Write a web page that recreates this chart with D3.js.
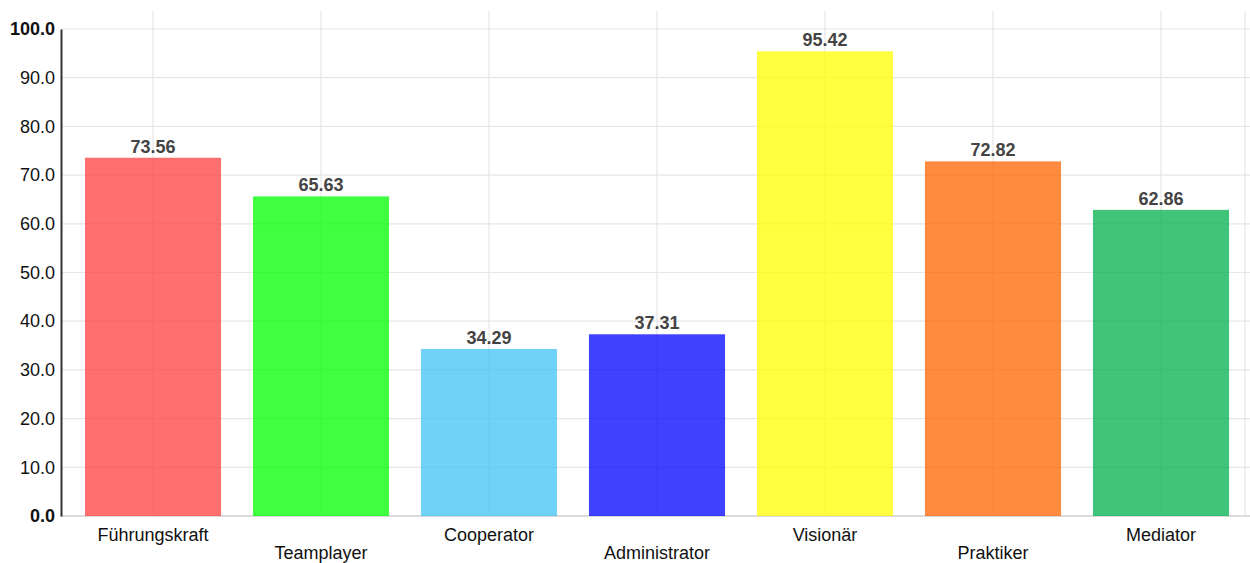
<!DOCTYPE html>
<html>
<head>
<meta charset="utf-8">
<script src="https://cdn.jsdelivr.net/npm/d3@7"></script>
<style>
  html, body { margin: 0; padding: 0; background: #fff; }
  svg { display: block; font-family: "Liberation Sans", Arial, sans-serif; }
</style>
</head>
<body>
<svg id="chart" width="1250" height="563"></svg>
<script>
const categories = ["Führungskraft", "Teamplayer", "Cooperator", "Administrator", "Visionär", "Praktiker", "Mediator"];
const values = [73.56, 65.63, 34.29, 37.31, 95.42, 72.82, 62.86];
const colors = ["#ff3f3f", "#00ff00", "#40c3f4", "#0000ff", "#ffff00", "#ff6300", "#00b04d"];
const yTicks = [0, 10, 20, 30, 40, 50, 60, 70, 80, 90, 100];

const svg = d3.select("#chart");
const mLeft = 61, mRight = 1245, mTop = 29, mBottom = 516;

const x = d3.scaleBand().domain(categories).range([69, 1245]).paddingInner(0.19).paddingOuter(0.095);
const y = d3.scaleLinear().domain([0, 100]).range([mBottom, mTop]);

// horizontal grid
svg.append("g").selectAll("line").data(yTicks).join("line")
  .attr("x1", mLeft).attr("x2", 1250)
  .attr("y1", d => y(d)).attr("y2", d => y(d))
  .attr("stroke", d => d === 0 ? "#dcdcdc" : "#e6e6e6").attr("stroke-width", d => d === 0 ? 2 : 1.2);

// vertical grid at category centers
svg.append("g").selectAll("line").data(categories).join("line")
  .attr("x1", d => x(d) + x.bandwidth() / 2).attr("x2", d => x(d) + x.bandwidth() / 2)
  .attr("y1", 11).attr("y2", mBottom)
  .attr("stroke", "#e6e6e6").attr("stroke-width", 1.2);
svg.append("line").attr("x1", mRight).attr("x2", mRight).attr("y1", 11).attr("y2", mBottom)
  .attr("stroke", "#e6e6e6").attr("stroke-width", 1.2);

// bars
svg.append("g").selectAll("rect").data(values).join("rect")
  .attr("x", (d, i) => x(categories[i]))
  .attr("y", d => y(d))
  .attr("width", x.bandwidth())
  .attr("height", d => mBottom - y(d))
  .attr("fill", (d, i) => colors[i])
  .attr("fill-opacity", 0.75);

// value labels
svg.append("g").selectAll("text").data(values).join("text")
  .attr("x", (d, i) => x(categories[i]) + x.bandwidth() / 2)
  .attr("y", d => y(d) - 5)
  .attr("text-anchor", "middle")
  .attr("font-size", 18).attr("font-weight", "bold").attr("fill", "#444")
  .text(d => d.toFixed(2));

// y axis
const yAxis = d3.axisLeft(y).tickValues(yTicks).tickFormat(d => d.toFixed(1)).tickSize(0).tickPadding(6);
const gy = svg.append("g").attr("transform", `translate(${mLeft},0)`).call(yAxis);
gy.select(".domain").attr("stroke", "#333").attr("stroke-width", 2);
gy.selectAll("text").attr("font-size", 18).attr("fill", "#111")
  .attr("font-family", "Liberation Sans, Arial, sans-serif")
  .attr("font-weight", d => (d === 0 || d === 100) ? "bold" : "normal");

// x labels (staggered)
const xAxis = d3.axisBottom(x).tickSize(0).tickPadding(0);
const gx = svg.append("g").attr("transform", `translate(0,${mBottom})`).call(xAxis);
gx.select(".domain").remove();
gx.selectAll("text")
  .attr("font-size", 18).attr("fill", "#111")
  .attr("font-family", "Liberation Sans, Arial, sans-serif")
  .attr("dy", null)
  .attr("y", (d, i) => i % 2 === 0 ? 25 : 43);
</script>
</body>
</html>
